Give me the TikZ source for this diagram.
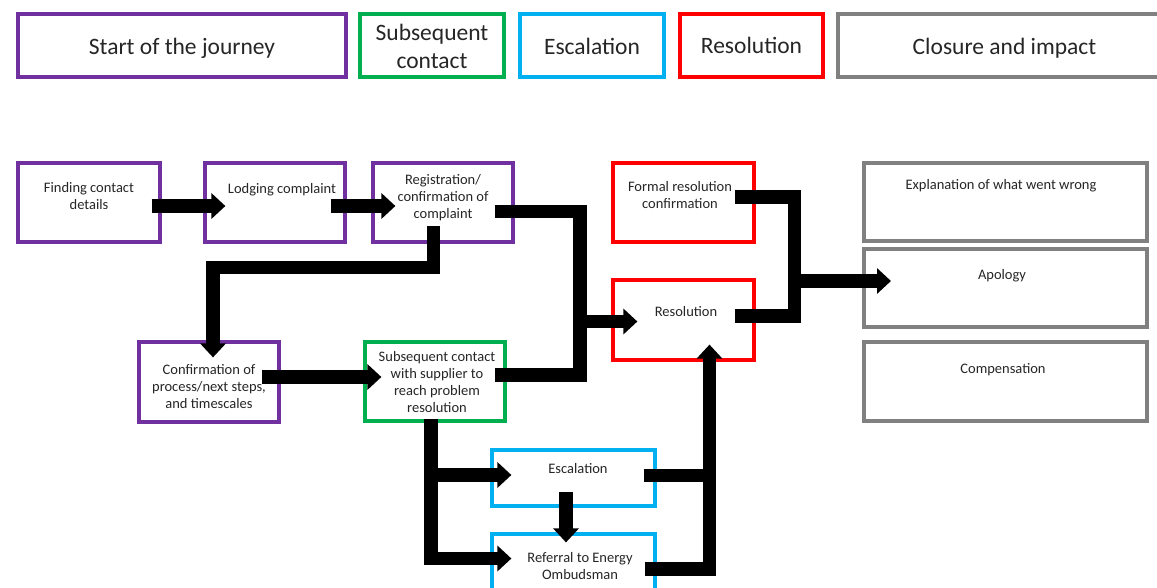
\documentclass[tikz,border=0pt]{standalone}
\usepackage{fontspec}
\setmainfont{Carlito}
\usetikzlibrary{arrows.meta,calc}
\definecolor{cpurple}{HTML}{7030A0}
\definecolor{cgreen}{HTML}{00B050}
\definecolor{cblue}{HTML}{00B0F0}
\definecolor{cred}{HTML}{FF0000}
\definecolor{cgray}{HTML}{808080}
\definecolor{ctext}{HTML}{262626}
\newcommand{\lowerby}[2]{\raisebox{-#1}[\height][\depth]{#2}}
\begin{document}
\begin{tikzpicture}[x=1pt,y=-1pt,
 box/.style={draw=#1, line width=3.2pt, rectangle, inner sep=0pt, fill=white},
 gbox/.style={draw=cgray, line width=4pt, rectangle, inner sep=0pt, fill=white},
 head/.style={font=\fontsize{23.5}{28}\selectfont, text=ctext, align=center},
 txt/.style={font=\fontsize{14.5}{17}\selectfont, text=ctext, align=center, inner sep=0pt},
 conn/.style={line width=13.5pt, line join=miter, draw=black},
 arr/.style={conn, -{Triangle[width=25pt,length=14pt]}}
]
\useasboundingbox (0,0) rectangle (1157,587);
% header boxes
\node[box=cpurple, head, minimum width=328pt, minimum height=63pt] (h1) at (182,45.5) {\lowerby{3pt}{Start of the journey}};
\node[box=cgreen, head, minimum width=144pt, minimum height=63pt] (h2) at (432,45.5) {\lowerby{3.5pt}{\begin{tabular}{@{}c@{}}Subsequent\\contact\end{tabular}}};
\node[box=cblue, head, minimum width=144pt, minimum height=63pt] (h3) at (592,45.5) {\lowerby{1pt}{Escalation}};
\node[box=cred, head, minimum width=143pt, minimum height=63pt] (h4) at (751.5,45.5) {Resolution};
\node[gbox, head, minimum width=333pt, minimum height=63pt] (h5) at (1004.5,45.5) {\lowerby{3pt}{Closure and impact}};
% process boxes
\node[box=cpurple, minimum width=142pt, minimum height=79pt] (find) at (89,202.5) {};
\node[box=cpurple, minimum width=140pt, minimum height=79pt] (lodge) at (275,202.5) {};
\node[box=cpurple, minimum width=140pt, minimum height=79pt] (reg) at (443,202.5) {};
\node[box=cpurple, minimum width=140pt, minimum height=80pt] (conf) at (209,382) {};
\node[box=cgreen, minimum width=140pt, minimum height=79pt] (sub) at (435,381.5) {};
\node[box=cred, minimum width=141pt, minimum height=79pt] (formal) at (683.5,202.5) {};
\node[box=cred, minimum width=141pt, minimum height=80pt] (res) at (683.5,320) {};
\node[box=cblue, minimum width=163pt, minimum height=56pt] (esc) at (573.5,478) {};
\node[box=cblue, minimum width=163pt, minimum height=56pt] (ref) at (573.5,562) {};
\node[gbox, minimum width=283pt, minimum height=78pt] (expl) at (1005.5,202) {};
\node[gbox, minimum width=283pt, minimum height=78pt] (apol) at (1005.5,288) {};
\node[gbox, minimum width=283pt, minimum height=79pt] (comp) at (1005.5,381.5) {};
% texts
\node[txt] (findt) at (89,196) {Finding contact\\details};
\node[txt] (lodget) at (282,189.5) {Lodging complaint};
\node[txt] (regt) at (443,197.5) {Registration/\\confirmation of\\complaint};
\node[txt] (conft) at (209,386.5) {Confirmation of\\process/next steps,\\and timescales};
\node[txt] (subt) at (437,382) {Subsequent contact\\with supplier to\\reach problem\\resolution};
\node[txt] (formalt) at (680,195.5) {Formal resolution\\confirmation};
\node[txt] (rest) at (686,311.5) {Resolution};
\node[txt] (esct) at (578,468.5) {Escalation};
\node[txt] (reft) at (580,566.5) {Referral to Energy\\Ombudsman};
\node[txt] (explt) at (1001,185.5) {Explanation of what went wrong};
\node[txt] (apolt) at (1002,275.5) {Apology};
\node[txt] (compt) at (1003,369.5) {Compensation};
% junctions
\coordinate (j1) at (580,321.5);
\coordinate (j2) at (431,475);
\coordinate (j3) at (716,475.5);
\coordinate (j4) at (794.5,281);
% connectors
\draw[arr] ($(find.east)+(-10,3.5)$) -- ($(lodge.west)+(22,3.5)$);
\draw[arr] ($(lodge.east)+(-16,3.5)$) -- ($(reg.west)+(24,3.5)$);
\draw[arr] ($(reg.south)+(-9.5,-18)$) -- ($(reg.south)+(-9.5,24)$) -| ($(conf.north)+(4,17)$);
\draw[arr] ($(conf.east)+(-19,-5)$) -- ($(sub.west)+(18,-4.5)$);
\draw[conn] ($(reg.east)+(-20,9)$) -| (j1) |- ($(sub.east)+(-12,-6.5)$);
\draw[arr] (j1) -- ($(res.west)+(26,1.5)$);
\draw[arr] ($(sub.south)+(-4,-4)$) |- ($(ref.west)+(21,-3.5)$);
\draw[arr] (j2) -- ($(esc.west)+(21,-3)$);
\draw[arr] ($(esc.south)+(-7.5,-16)$) -- ($(ref.north)+(-7.5,10)$);
\draw[arr] ($(ref.east)+(-12,7)$) -| ($(res.south)+(26,-17)$);
\draw[conn] ($(esc.east)+(-13,-2.5)$) -- (j3);
\draw[conn] ($(formal.east)+(-21,-5.5)$) -| (j4) |- ($(res.east)+(-21,-4)$);
\draw[arr] (j4) -- ($(apol.west)+(29,-7)$);
\end{tikzpicture}
\end{document}
